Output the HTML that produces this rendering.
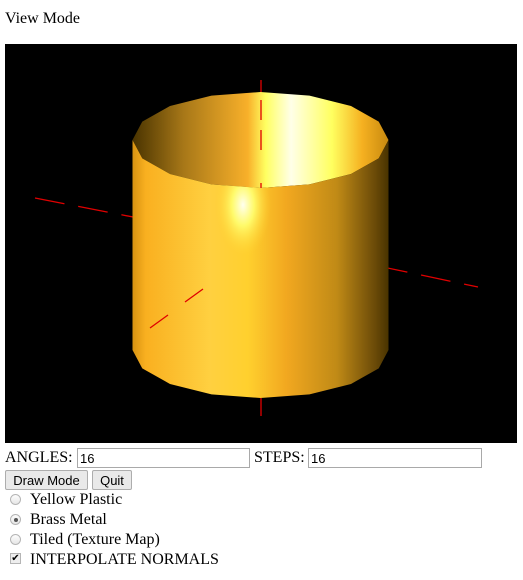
<!DOCTYPE html>
<html><head><meta charset="utf-8"><style>
body{margin:0;width:523px;height:580px;background:#fff;font-family:"Liberation Serif",serif;font-size:16px;color:#000;position:relative;overflow:hidden}
.a{position:absolute;white-space:nowrap}
input[type=text]{position:absolute;height:18px;border:1px solid #a9a9a9;padding:0 2px;font:13px "Liberation Sans",sans-serif;box-sizing:content-box}
button{position:absolute;height:20px;font:13px "Liberation Sans",sans-serif;background:#e9e9e9;border:1px solid #adadad;border-radius:2px;padding:0 6px}
.rad{position:absolute;left:10px;width:11px;height:11px;border-radius:50%;border:1px solid #b5b5b5;background:linear-gradient(#fdfdfd,#e6e6e6);box-sizing:border-box}
</style></head><body>
<div class="a" style="left:5px;top:10px">View Mode</div>
<svg style="position:absolute;left:5px;top:44px" width="512" height="399" viewBox="5 44 512 399">
<defs>
<linearGradient id="outer" x1="133" x2="388" gradientUnits="userSpaceOnUse">
<stop offset="0" stop-color="#d99412"/><stop offset="0.05" stop-color="#f9b020"/><stop offset="0.3" stop-color="#ffd040"/><stop offset="0.45" stop-color="#ffd02e"/><stop offset="0.6" stop-color="#f2a820"/><stop offset="0.8" stop-color="#c08a16"/><stop offset="0.95" stop-color="#6a4a08"/><stop offset="1" stop-color="#4a3400"/>
</linearGradient>
<linearGradient id="inner" x1="133" x2="388" gradientUnits="userSpaceOnUse">
<stop offset="0" stop-color="#4a3400"/><stop offset="0.2" stop-color="#a87818"/><stop offset="0.45" stop-color="#f8b02a"/><stop offset="0.52" stop-color="#ffff60"/><stop offset="0.62" stop-color="#ffffe8"/><stop offset="0.78" stop-color="#ffff60"/><stop offset="0.9" stop-color="#f5b020"/><stop offset="1" stop-color="#c88a10"/>
</linearGradient>
<radialGradient id="spec" cx="243" cy="205" r="40" gradientUnits="userSpaceOnUse" gradientTransform="translate(243 205) scale(0.7 1.3) translate(-243 -205)">
<stop offset="0" stop-color="#fffff0"/><stop offset="0.4" stop-color="#ffff70" stop-opacity="0.9"/><stop offset="1" stop-color="#ffd030" stop-opacity="0"/>
</radialGradient>
</defs>
<rect x="5" y="44" width="512" height="399" fill="#000"/>
<g stroke="#e00000" stroke-width="1.3" stroke-dasharray="30 14">
<line x1="35" y1="198" x2="133" y2="217"/>
<line x1="378" y1="266" x2="478" y2="287"/>
<line x1="261" y1="80" x2="261" y2="95"/>
<line x1="261" y1="398" x2="261" y2="416"/>
</g>
<g id="cyl"></g>
<g stroke="#e00000" stroke-width="1.3">
<line x1="150" y1="328" x2="168" y2="315"/><line x1="185" y1="302" x2="203" y2="289"/>
<line x1="261" y1="100" x2="261" y2="120"/><line x1="261" y1="130" x2="261" y2="150"/><line x1="261" y1="183" x2="261" y2="188"/>
</g>
</svg>
<div class="a" style="left:5px;top:449px">ANGLES:</div>
<input type="text" value="16" style="left:77px;top:448px;width:167px">
<div class="a" style="left:254px;top:449px">STEPS:</div>
<input type="text" value="16" style="left:308px;top:448px;width:168px">
<button style="left:5px;top:470px;width:83px">Draw Mode</button>
<button style="left:92px;top:470px;width:40px">Quit</button>
<div class="rad" style="top:494px"></div>
<div class="a" style="left:30px;top:491px">Yellow Plastic</div>
<div class="rad" style="top:514px"><div style="position:absolute;left:3px;top:3px;width:4px;height:4px;border-radius:50%;background:#555"></div></div>
<div class="a" style="left:30px;top:511px">Brass Metal</div>
<div class="rad" style="top:534px"></div>
<div class="a" style="left:30px;top:531px">Tiled (Texture Map)</div>
<div style="position:absolute;left:10px;top:553px;width:11px;height:11px;border:1px solid #b5b5b5;background:#eee;box-sizing:border-box;font-size:10px;line-height:9px;text-align:center">✔</div>
<div class="a" style="left:30px;top:551px">INTERPOLATE NORMALS</div>
<script>
const N=16,cx=260.5,rx=128,ry=48,topY=140,botY=350;
function pts(cy,a0,a1){const p=[];for(let i=0;i<=N;i++){const t=i/N*2*Math.PI;if(t<a0-1e-6||t>a1+1e-6)continue;p.push([cx-rx*Math.cos(t),cy+ry*Math.sin(t)]);}return p;}
const g=document.getElementById('cyl'),ns='http://www.w3.org/2000/svg';
const front=pts(topY,0,Math.PI),back=pts(topY,Math.PI,2*Math.PI);
const inner=document.createElementNS(ns,'polygon');


inner.setAttribute('points',[...pts(topY,0,2*Math.PI)].map(p=>p.join(',')).join(' '));
inner.setAttribute('fill','url(#inner)');g.appendChild(inner);
const bf=pts(botY,0,Math.PI);
const outer=document.createElementNS(ns,'polygon');


outer.setAttribute('points',[...front,...bf.reverse()].map(p=>p.join(',')).join(' '));
outer.setAttribute('fill','url(#outer)');g.appendChild(outer);
const sp=document.createElementNS(ns,'polygon');


sp.setAttribute('points',outer.getAttribute('points'));
sp.setAttribute('fill','url(#spec)');g.appendChild(sp);
</script>
</body></html>
